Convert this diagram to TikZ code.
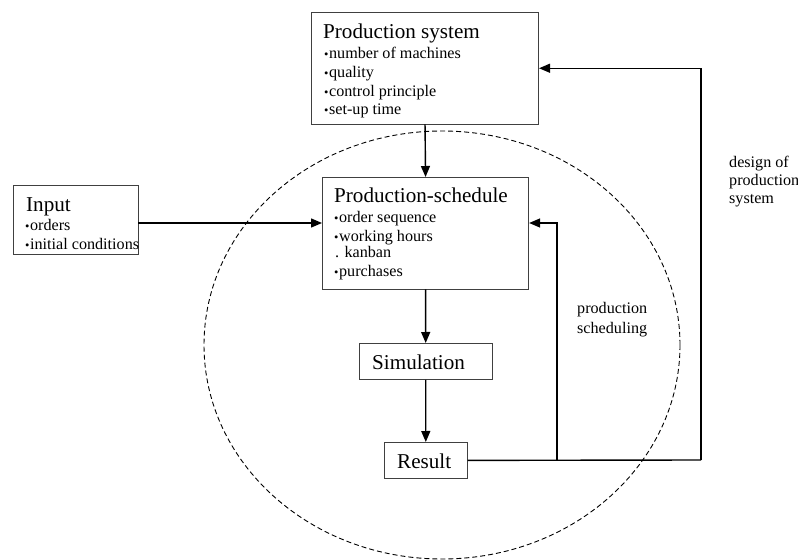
\documentclass[tikz,border=0pt]{standalone}
\usepackage{fontspec}
\setmainfont{Liberation Serif}
\usetikzlibrary{arrows.meta}
\newcommand{\bl}{\raisebox{0.6bp}{\fontsize{12.5}{12}\selectfont •}\hspace{0.6bp}}
\begin{document}
\begin{tikzpicture}[x=1bp,y=-1bp,
  box/.style={draw=black!75,line width=0.9bp,inner sep=0,anchor=north west},
  ttl/.style={inner sep=0,anchor=base west,font=\fontsize{21.2}{24}\selectfont},
  itm/.style={inner sep=0,anchor=base west,font=\fontsize{16.2}{18}\selectfont},
  arr/.style={line width=1.4bp,-{Triangle[length=11bp,width=9bp]}},
  ln/.style={line width=1.4bp}]
\useasboundingbox (0,0) rectangle (798,560);
% dashed ellipse
\draw[line width=0.9bp,dash pattern=on 5bp off 3bp] (442,345) ellipse [x radius=238,y radius=214];
% boxes
\node[box,minimum width=228,minimum height=112] (ps) at (311,12) {};
\node[box,minimum width=125,minimum height=69] (inp) at (13,185) {};
\node[box,minimum width=207,minimum height=112] (psch) at (322,177) {};
\node[box,minimum width=133,minimum height=36] (sim) at (359,343) {};
\node[box,minimum width=83,minimum height=36] (res) at (384,442) {};
% texts
\node[ttl] (pst) at (323,39) {Production system};
\node[itm] (ps1) at (324,59) {\bl number of machines};
\node[itm] (ps2) at (324,78) {\bl quality};
\node[itm] (ps3) at (324,97) {\bl control principle};
\node[itm] (ps4) at (324,115) {\bl set-up time};
\node[ttl] (inpt) at (26,212) {Input};
\node[itm] (in1) at (25,231) {\bl orders};
\node[itm] (in2) at (25,250) {\bl initial conditions};
\node[ttl] (pscht) at (334,203) {Production-schedule};
\node[itm] (psc1) at (334,223) {\bl order sequence};
\node[itm] (psc2) at (334,242) {\bl working hours};
\node[itm] (psc3) at (335,258) {. kanban};
\node[itm] (psc4) at (334,277) {\bl purchases};
\node[ttl] (simt) at (372,369) {Simulation};
\node[ttl] (rest) at (397,468) {Result};
\node[itm] (d1) at (729,168) {design of};
\node[itm] (d2) at (729,186) {production};
\node[itm] (d3) at (729,204) {system};
\node[itm] (s1) at (577,314) {production};
\node[itm] (s2) at (577,333) {scheduling};
% connectors
\coordinate (jn) at (557,460);
\coordinate (rc) at (701,460);
\draw[arr] (ps.south) -- (psch.north);
\draw[arr] (inp.east |- 0,223) -- (psch.west |- 0,223);
\draw[arr] (psch.south) -- (sim.north);
\draw[arr] (sim.south) -- (res.north);
\draw[ln] (res.east) -- (rc);
\draw[arr] (rc) -- (rc |- ps.east) -- (ps.east);
\draw[arr] (jn) -- (jn |- 0,223) -- (psch.east |- 0,223);
\end{tikzpicture}
\end{document}
